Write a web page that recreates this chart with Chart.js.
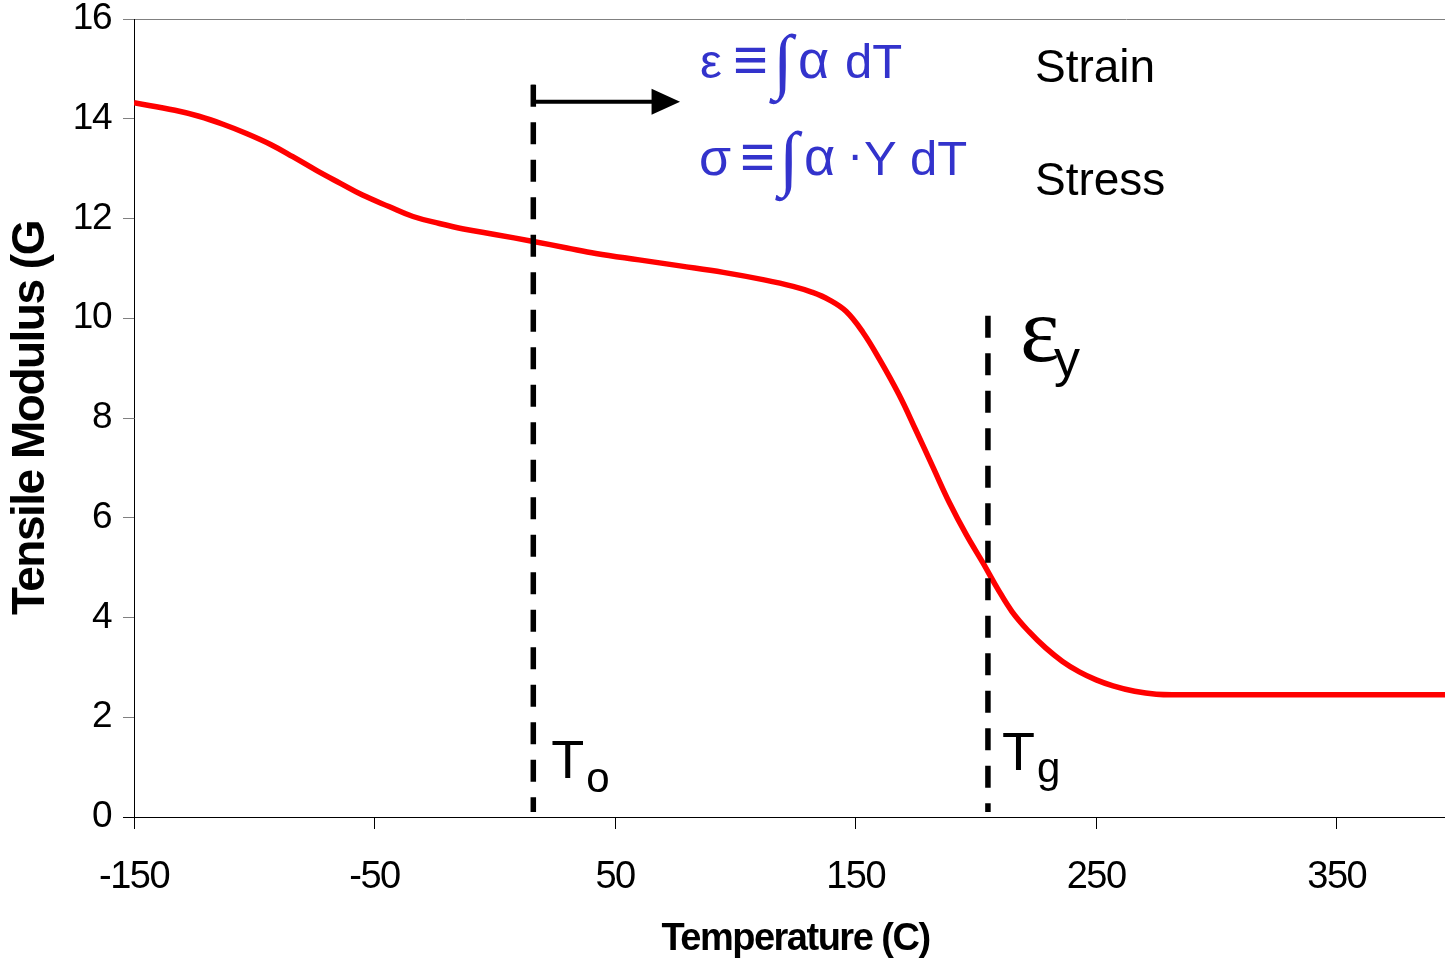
<!DOCTYPE html>
<html>
<head>
<meta charset="utf-8">
<script src="https://cdn.jsdelivr.net/npm/chart.js@4/dist/chart.umd.min.js"></script>
<style>
  html, body { margin: 0; padding: 0; background: #fff; overflow: hidden; }
  #wrap { width: 1460px; height: 961px; }
</style>
</head>
<body>
<div id="wrap"><canvas id="chart" width="1460" height="961"></canvas></div>
<script>
// Tensile modulus (GPa) of a polymer film versus temperature (°C)
const temperatures = [-150, -133, -123, -113, -103, -93, -84, -74, -64, -55, -44, -34, -23, -13, 0, 16, 30, 42, 60, 77, 95, 112, 124, 132, 139, 146, 153, 160, 168, 175, 182, 189, 196, 203, 209, 215, 222, 229, 236, 243, 250, 257, 266, 275, 285, 300, 350, 400];
const modulus      = [14.32, 14.17, 14.05, 13.89, 13.70, 13.48, 13.24, 12.96, 12.70, 12.47, 12.24, 12.04, 11.90, 11.79, 11.68, 11.54, 11.41, 11.30, 11.17, 11.05, 10.92, 10.77, 10.64, 10.52, 10.37, 10.14, 9.72, 9.17, 8.47, 7.76, 7.03, 6.30, 5.66, 5.09, 4.58, 4.12, 3.72, 3.39, 3.12, 2.91, 2.75, 2.63, 2.52, 2.46, 2.45, 2.45, 2.45, 2.45];

// Axis ticks
const xTickValues = [-150, -50, 50, 150, 250, 350];
const yTickStep = 2;

// Stress-free temperature To and glass transition Tg markers
const onsetT = [16, 16];
const onsetY = [14.68, 0.1];
const glassT = [205, 205];
const glassY = [10.05, 0.1];

// Heating-direction arrow starting at To
const arrowT = [16, 16, 66];
const arrowY = [14.68, 14.34, 14.34];
const arrowTipT = 77;

const SANS = '"Liberation Sans", Arial, sans-serif';
const SERIF = '"Liberation Serif", "Times New Roman", serif';
const BLUE = '#3333CC';

const toPoints = (xs, ys) => xs.map((x, i) => ({ x: x, y: ys[i] }));

// Arrowhead, marker labels and the strain / stress definitions
const annotations = {
  id: 'annotations',
  beforeDraw(chart) {
    chart.ctx.letterSpacing = '-1.5px';
  },
  afterDatasetsDraw(chart) {
    const ctx = chart.ctx;
    const xs = chart.scales.x, ys = chart.scales.y;
    ctx.save();
    ctx.letterSpacing = '0px';

    // arrowhead
    const tipX = xs.getPixelForValue(arrowTipT);
    const baseX = xs.getPixelForValue(arrowT[arrowT.length - 1]);
    const ay = ys.getPixelForValue(arrowY[arrowY.length - 1]);
    ctx.fillStyle = '#000';
    ctx.beginPath();
    ctx.moveTo(tipX, ay);
    ctx.lineTo(baseX - 2, ay - 13);
    ctx.lineTo(baseX - 2, ay + 13);
    ctx.closePath();
    ctx.fill();

    const txt = (s, x, y, font, color) => {
      ctx.font = font;
      ctx.fillStyle = color || '#000';
      ctx.textAlign = 'left';
      ctx.textBaseline = 'alphabetic';
      ctx.fillText(s, x, y);
    };

    // To label
    const ox = xs.getPixelForValue(onsetT[0]);
    const y0 = ys.getPixelForValue(0);
    txt('T', ox + 18, y0 - 39, '54px ' + SANS);
    txt('o', ox + 53, y0 - 25, '42px ' + SANS);

    // Tg label
    const gx = xs.getPixelForValue(glassT[0]);
    txt('T', gx + 14, y0 - 47, '54px ' + SANS);
    txt('g', gx + 49, y0 - 35, '42px ' + SANS);

    // yield strain
    const gTop = ys.getPixelForValue(glassY[0]);
    txt('\u03B5', gx + 32, gTop + 45, '94px ' + SERIF);
    txt('y', gx + 66, gTop + 60, '52px ' + SANS);

    // strain and stress definitions
    const top = chart.chartArea.top;
    const f = '49px ' + SANS;
    const fa = '54px ' + SANS;
    const fe = '60px ' + SANS;
    const fi = '72px ' + SERIF;
    let b = top + 59;
    txt('\u03B5', 700, b, f, BLUE);
    txt('\u2261', 733, b + 2, fe, BLUE);
    txt('\u222B', 773, b + 7, fi, BLUE);
    txt('\u03B1', 798, b, fa, BLUE);
    txt('dT', 845, b, f, BLUE);
    txt('Strain', 1035, top + 63, '46px ' + SANS);

    b = top + 156;
    txt('\u03C3', 699, b, '52px ' + SANS, BLUE);
    txt('\u2261', 740, b + 2, fe, BLUE);
    txt('\u222B', 779, b + 7, fi, BLUE);
    txt('\u03B1', 804, b, fa, BLUE);
    txt('\u00B7', 847, b - 4, f, BLUE);
    txt('Y', 864, b, f, BLUE);
    txt('dT', 910, b, f, BLUE);
    txt('Stress', 1035, top + 176, '46px ' + SANS);

    ctx.restore();
  }
};

new Chart(document.getElementById('chart').getContext('2d'), {
  type: 'line',
  data: {
    datasets: [
      {
        data: toPoints(arrowT, arrowY),
        borderColor: '#000', borderWidth: 4, pointRadius: 0, tension: 0,
        borderCapStyle: 'butt', borderJoinStyle: 'miter', order: 0
      },
      {
        data: toPoints(onsetT, onsetY),
        borderColor: '#000', borderWidth: 5.5, borderDash: [22, 15.5], tension: 0,
        pointRadius: 0, borderCapStyle: 'butt', order: 1
      },
      {
        data: toPoints(glassT, glassY),
        borderColor: '#000', borderWidth: 5.5, borderDash: [22, 15.5], tension: 0,
        pointRadius: 0, borderCapStyle: 'butt', order: 1
      },
      {
        data: toPoints(temperatures, modulus),
        borderColor: '#FF0000', borderWidth: 5.5, pointRadius: 0,
        tension: 0.4, order: 2
      }
    ]
  },
  options: {
    responsive: false,
    animation: false,
    devicePixelRatio: 1,
    layout: { padding: { top: 19, right: 3, bottom: 0, left: 0 } },
    plugins: { legend: { display: false }, tooltip: { enabled: false } },
    scales: {
      x: {
        type: 'linear',
        min: -150,
        max: 400,
        afterBuildTicks: (s) => { s.ticks = xTickValues.map(v => ({ value: v })); },
        afterFit: (s) => { s.height = 144; s.paddingRight = 0; },
        grid: { drawOnChartArea: false, tickLength: 12, tickColor: '#000', tickWidth: 1 },
        border: { color: '#000', width: 1 },
        ticks: {
          color: '#000', padding: 30, maxRotation: 0, autoSkip: false,
          font: { family: SANS, size: 38, lineHeight: 1 }
        },
        title: {
          display: true, text: 'Temperature (C)', color: '#000',
          font: { family: SANS, size: 38, weight: 'bold', lineHeight: 1 },
          padding: { top: 0, bottom: 2 }
        }
      },
      y: {
        min: 0,
        max: 16,
        afterFit: (s) => { s.width = 134; s.paddingTop = 0; s.paddingBottom = 0; },
        grid: {
          color: (c) => (c.tick && c.tick.value === 16 ? '#808080' : 'rgba(0,0,0,0)'),
          tickColor: (c) => (c.tick && c.tick.value === 0 ? '#000' : '#808080'),
          tickLength: 11, lineWidth: 1
        },
        border: { color: '#000', width: 1 },
        ticks: {
          stepSize: yTickStep, color: '#000', padding: 12,
          font: { family: SANS, size: 37, lineHeight: 1 }
        },
        title: {
          display: true, text: 'Tensile Modulus (G', color: '#000',
          font: { family: SANS, size: 46, weight: 'bold', lineHeight: 1.2 },
          padding: { top: 4, bottom: 0 }
        }
      }
    }
  },
  plugins: [annotations]
});
</script>
</body>
</html>
